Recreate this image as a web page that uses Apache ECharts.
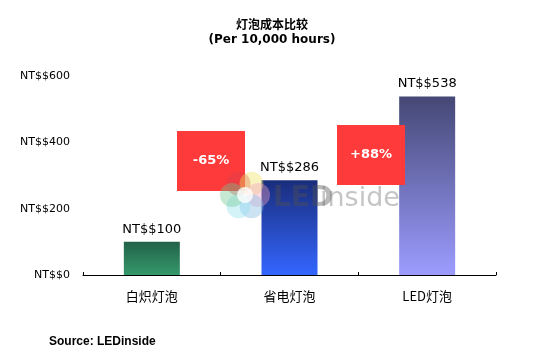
<!DOCTYPE html>
<html>
<head>
<meta charset="utf-8">
<script src="https://cdn.jsdelivr.net/npm/echarts@6/dist/echarts.min.js"></script>
<style>
  html, body { margin: 0; padding: 0; background: #fff; }
  #chart { width: 544px; height: 354px; }
</style>
</head>
<body>
<div id="chart"></div>
<script>
const categories = ['白炽灯泡', '省电灯泡', 'LED灯泡'];
const costs = [100, 286, 538];
const yTicks = [0, 200, 400, 600];
const changes = ['-65%', '+88%'];

const barColors = [
  ['#22624a', '#35996a'],
  ['#1a2d7c', '#3366ff'],
  ['#454875', '#9c9cff'],
];

const font = '"DejaVu Sans", "Noto Sans CJK SC", sans-serif';
const cjk = '"Noto Sans CJK SC", "DejaVu Sans", sans-serif';

const chart = echarts.init(document.getElementById('chart'));

// red boxes with the percentage change between neighbouring bars
const changeBox = (x, y, text) => ({
  type: 'group',
  left: x,
  top: y,
  children: [
    { type: 'rect', z: 10, shape: { x: 0, y: 0, width: 68, height: 60 }, style: { fill: '#ff3a3a' } },
    {
      type: 'text', z: 11,
      style: {
        text: text, x: 34, y: 30, align: 'center', verticalAlign: 'middle',
        fill: '#fff', font: 'bold 13px ' + font,
      },
    },
  ],
});

// faint LEDinside watermark, drawn over everything
const petals = ['#d84050', '#f0e060', '#f0a0c0', '#80b8e0', '#90e0f0', '#70c890'];
const logo = {
  type: 'group',
  children: petals.map((c, i) => {
    const a = (i / 6) * Math.PI * 2 - Math.PI * 2 / 3;
    return {
      type: 'circle', z: 20,
      shape: { cx: 245 + Math.cos(a) * 13, cy: 195 + Math.sin(a) * 13, r: 12 },
      style: { fill: c, opacity: 0.4 },
    };
  }).concat([
    { type: 'circle', z: 21, shape: { cx: 245, cy: 195, r: 8 }, style: { fill: '#fff', opacity: 0.8 } },
    {
      type: 'text', z: 22,
      style: { text: 'LED', x: 273, y: 199, verticalAlign: 'middle', fill: 'rgba(80,80,80,0.4)', font: 'bold 28px ' + font },
    },
    {
      type: 'text', z: 22,
      style: { text: 'inside', x: 320, y: 199, verticalAlign: 'middle', fill: 'rgba(110,110,110,0.4)', font: '27px ' + font },
    },
  ]),
};

chart.setOption({
  animation: false,
  title: [
    {
      text: '灯泡成本比较',
      left: 'center', top: 13,
      textStyle: { fontFamily: cjk, fontSize: 12, fontWeight: 'bold', color: '#000' },
    },
    {
      text: '(Per 10,000 hours)',
      left: 'center', top: 29,
      textStyle: { fontFamily: font, fontSize: 12, fontWeight: 'bold', color: '#000' },
    },
    {
      text: 'Source: LEDinside',
      left: 44, top: 331,
      textStyle: { fontFamily: '"Liberation Sans", Arial, sans-serif', fontSize: 12, fontWeight: 'bold', color: '#000' },
    },
  ],
  grid: { left: 83, right: 48, top: 76, bottom: 79 },
  xAxis: {
    type: 'category',
    data: categories,
    axisLine: { lineStyle: { color: '#000', width: 1 } },
    axisTick: { show: true, inside: true, length: 3, lineStyle: { color: '#000' } },
    axisLabel: { color: '#000', fontFamily: cjk, fontSize: 13, margin: 15 },
  },
  yAxis: {
    type: 'value',
    min: yTicks[0],
    max: yTicks[yTicks.length - 1],
    interval: yTicks[1] - yTicks[0],
    axisLine: { show: false },
    axisTick: { show: false },
    splitLine: { show: false },
    axisLabel: { color: '#000', fontFamily: font, fontSize: 11, margin: 13, formatter: v => 'NT$$' + v },
  },
  series: [
    {
      type: 'bar',
      barWidth: 56,
      data: costs.map((v, i) => ({
        value: v,
        itemStyle: {
          color: new echarts.graphic.LinearGradient(0, 0, 0, 1, [
            { offset: 0, color: barColors[i][0] },
            { offset: 1, color: barColors[i][1] },
          ]),
        },
      })),
      label: {
        show: true,
        position: 'top',
        distance: 6,
        color: '#000',
        fontFamily: font,
        fontSize: 13,
        formatter: p => 'NT$$' + p.value,
      },
    },
  ],
  graphic: [
    changeBox(177, 131, changes[0]),
    changeBox(337, 125, changes[1]),
    logo,
  ],
});
</script>
</body>
</html>
